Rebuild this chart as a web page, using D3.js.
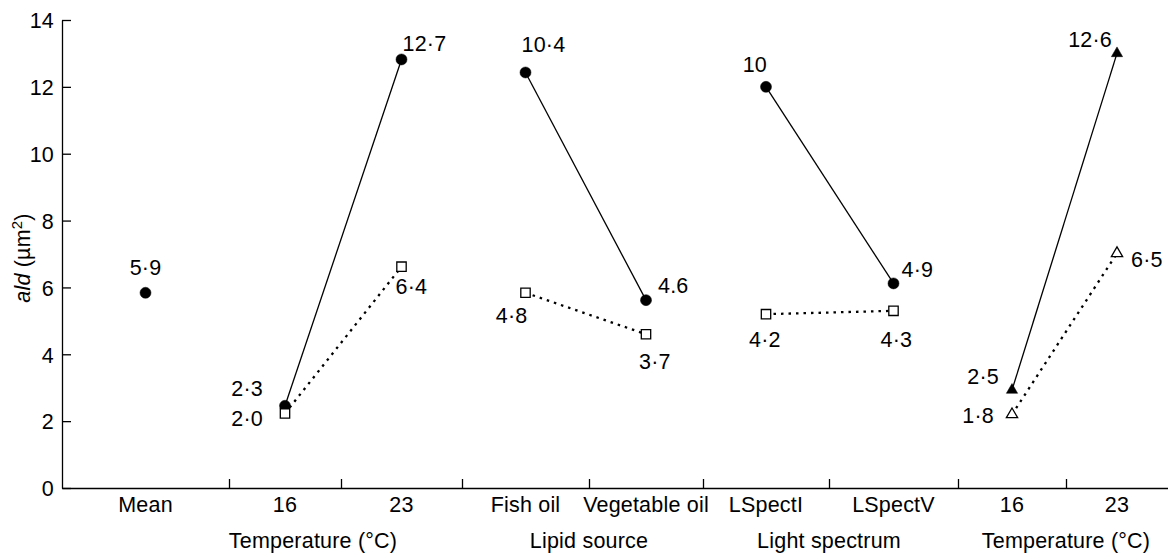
<!DOCTYPE html>
<html><head><meta charset="utf-8">
<script src="https://cdn.jsdelivr.net/npm/d3@7"></script>
<style>
body{margin:0;background:#fff}
text{font-family:"Liberation Sans",Arial,Helvetica,sans-serif;fill:#000;letter-spacing:0.2px}
</style>
</head><body>
<svg id="chart" width="1168" height="554"></svg>
<script>
// ---------------- DATA ----------------
const categories = ["Mean","16","23","Fish oil","Vegetable oil","LSpectI","LSpectV","16","23"];
const groupLabels = ["Temperature (\u00B0C)","Lipid source","Light spectrum","Temperature (\u00B0C)"];
const yTicks = [0,2,4,6,8,10,12,14];

const meanCats = [0];
const meanValues = [5.84];
const meanLabels = ["5\u00B79"];

const tempACats = [1, 2];
const tempAFilled = [2.46, 12.82];
const tempAFilledLabels = ["2\u00B73", "12\u00B77"];
const tempAOpen = [2.23, 6.62];
const tempAOpenLabels = ["2\u00B70", "6\u00B74"];

const lipidCats = [3, 4];
const lipidFilled = [12.43, 5.62];
const lipidFilledLabels = ["10\u00B74", "4.6"];
const lipidOpen = [5.84, 4.60];
const lipidOpenLabels = ["4\u00B78", "3\u00B77"];

const lightCats = [5, 6];
const lightFilled = [12.0, 6.12];
const lightFilledLabels = ["10", "4\u00B79"];
const lightOpen = [5.20, 5.30];
const lightOpenLabels = ["4\u00B72", "4\u00B73"];

const tempBCats = [7, 8];
const tempBFilled = [2.93, 13.0];
const tempBFilledLabels = ["2\u00B75", "12\u00B76"];
const tempBOpen = [2.20, 7.02];
const tempBOpenLabels = ["1\u00B78", "6\u00B75"];

// ---------------- LAYOUT ----------------
const W = 1168, H = 554;
const cellEdges = [62, 229, 341, 462, 589, 703, 829, 958, 1066, 1168];
const yTop = 20, yBottom = 488;
const fontSize = 21.5;
const groupLabelAt = [1.75, 4, 6, 8];

// label offsets: [dx, dy, anchor]
const labelLayout = {
  mean:        [[0,-18,"middle"]],
  tempAFilled: [[-22,-10,"end"],[1,-8,"start"]],
  tempAOpen:   [[-22,13,"end"],[-6,27,"start"]],
  lipidFilled: [[-4,-20,"start"],[12,-7,"start"]],
  lipidOpen:   [[2,30,"end"],[-7,35,"start"]],
  lightFilled: [[1,-15,"end"],[8,-6,"start"]],
  lightOpen:   [[-17,33,"start"],[-13,36,"start"]],
  tempBFilled: [[-13,-6,"end"],[-5,-6,"end"]],
  tempBOpen:   [[-18,9,"end"],[14,14,"start"]]
};

const series = [
  {key:"mean", cats:meanCats, values:meanValues, labels:meanLabels, shape:d3.symbolCircle, size:95, filled:true, line:null},
  {key:"tempAFilled", cats:tempACats, values:tempAFilled, labels:tempAFilledLabels, shape:d3.symbolCircle, size:95, filled:true, line:"solid"},
  {key:"tempAOpen", cats:tempACats, values:tempAOpen, labels:tempAOpenLabels, shape:d3.symbolSquare, size:88, filled:false, line:"dot"},
  {key:"lipidFilled", cats:lipidCats, values:lipidFilled, labels:lipidFilledLabels, shape:d3.symbolCircle, size:95, filled:true, line:"solid"},
  {key:"lipidOpen", cats:lipidCats, values:lipidOpen, labels:lipidOpenLabels, shape:d3.symbolSquare, size:88, filled:false, line:"dot"},
  {key:"lightFilled", cats:lightCats, values:lightFilled, labels:lightFilledLabels, shape:d3.symbolCircle, size:95, filled:true, line:"solid"},
  {key:"lightOpen", cats:lightCats, values:lightOpen, labels:lightOpenLabels, shape:d3.symbolSquare, size:88, filled:false, line:"dot"},
  {key:"tempBFilled", cats:tempBCats, values:tempBFilled, labels:tempBFilledLabels, shape:d3.symbolTriangle, size:55, filled:true, line:"solid"},
  {key:"tempBOpen", cats:tempBCats, values:tempBOpen, labels:tempBOpenLabels, shape:d3.symbolTriangle, size:55, filled:false, line:"dot"}
];

const svg = d3.select("#chart");
const x = d3.scaleLinear().domain(d3.range(cellEdges.length)).range(cellEdges);
const y = d3.scaleLinear().domain([0,14]).range([yBottom, yTop]);
const cx = i => x(i + 0.5);

// Y axis
const yAxis = svg.append("g")
  .attr("transform", `translate(${cellEdges[0]},0)`)
  .call(d3.axisLeft(y).tickValues(yTicks).tickSize(-9).tickSizeOuter(0).tickPadding(8));
yAxis.select(".domain").attr("stroke","#000").attr("stroke-width",1.3);
yAxis.selectAll(".tick line").attr("stroke","#000").attr("stroke-width",1.3);
yAxis.selectAll(".tick text").style("font-size", fontSize+"px")
  .style("font-family",'"Liberation Sans",Arial,sans-serif').attr("dy","0.36em");

// X axis (separators)
const xAxis = svg.append("g")
  .attr("transform", `translate(0,${yBottom})`)
  .call(d3.axisBottom(x).tickValues(d3.range(1, cellEdges.length-1)).tickSize(-9).tickSizeOuter(0).tickFormat(""));
xAxis.select(".domain").attr("stroke","#000").attr("stroke-width",1.3);
xAxis.selectAll(".tick line").attr("stroke","#000").attr("stroke-width",1.3);

// category labels
svg.append("g").selectAll("text").data(categories).join("text")
  .attr("x", (d,i) => cx(i)).attr("y", 512)
  .attr("text-anchor","middle").style("font-size", fontSize+"px").text(d => d);

// group labels
svg.append("g").selectAll("text").data(groupLabels).join("text")
  .attr("x", (d,i) => x(groupLabelAt[i])).attr("y", 548)
  .attr("text-anchor","middle").style("font-size", fontSize+"px").text(d => d);

// y title
const yt = svg.append("text")
  .attr("transform", `translate(30,${(yTop+yBottom)/2 + 4}) rotate(-90)`)
  .attr("text-anchor","middle").style("font-size", fontSize+"px");
yt.append("tspan").style("font-style","italic").text("ald");
yt.append("tspan").text(" (\u00B5m");
yt.append("tspan").attr("baseline-shift","super").style("font-size", (fontSize*0.7)+"px").text("2");
yt.append("tspan").text(")");

// lines
const lineGen = d3.line().x(d => cx(d.c)).y(d => y(d.v));
series.filter(s => s.line).forEach(s => {
  const pts = s.cats.map((c,i) => ({c, v:s.values[i]}));
  svg.append("path").datum(pts).attr("d", lineGen)
    .attr("fill","none").attr("stroke","#000")
    .attr("stroke-width", s.line === "solid" ? 1.3 : 2.3)
    .attr("stroke-dasharray", s.line === "solid" ? null : "2.5,5");
});

// markers + labels
series.forEach(s => {
  const pts = s.cats.map((c,i) => ({c, v:s.values[i], label:s.labels[i], lay:labelLayout[s.key][i]}));
  const g = svg.append("g");
  g.selectAll("path").data(pts).join("path")
    .attr("transform", d => `translate(${cx(d.c)},${y(d.v)})`)
    .attr("d", d3.symbol().type(s.shape).size(s.size))
    .attr("fill", s.filled ? "#000" : "#fff")
    .attr("stroke","#000").attr("stroke-width", s.filled ? 0.5 : 1.3);
  g.selectAll("text").data(pts).join("text")
    .attr("x", d => cx(d.c) + d.lay[0])
    .attr("y", d => y(d.v) + d.lay[1])
    .attr("text-anchor", d => d.lay[2])
    .style("font-size", fontSize+"px")
    .text(d => d.label);
});
</script>
</body></html>
